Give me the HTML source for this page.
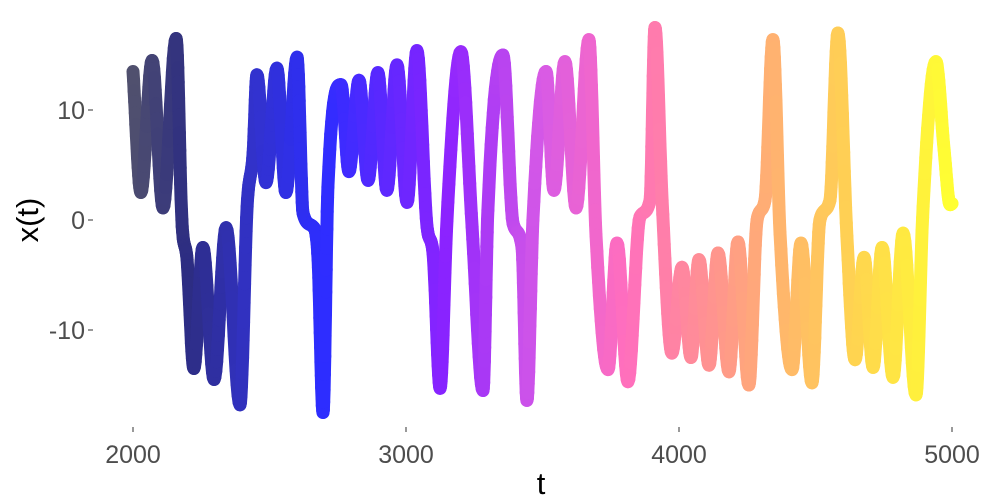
<!DOCTYPE html>
<html><head><meta charset="utf-8"><style>
html,body{margin:0;padding:0;background:#fff;width:1000px;height:500px;overflow:hidden}
text{font-family:"Liberation Sans",sans-serif}
</style></head><body>
<svg id="chart" width="1000" height="500" viewBox="0 0 1000 500">
<g id="axes"></g>
<g id="line"></g>
<text x="38" y="220" font-size="31" text-anchor="middle" transform="rotate(-90 38 220)" fill="#000">x(t)</text>
<text x="541" y="494" font-size="31" text-anchor="middle" fill="#000">t</text>
</svg>
<script>
const tVals=[2000,2029,2070,2110,2158,2179,2198,2223,2256,2297,2341,2392,2418,2440,2454,2487,2527,2560,2601,2623,2659,2678,2696,2714,2762,2791,2828,2861,2897,2930,2967,3004,3040,3077,3099,3125,3150,3201,3242,3282,3300,3355,3392,3425,3443,3465,3513,3542,3582,3623,3670,3696,3740,3773,3813,3857,3894,3912,3938,3974,4011,4044,4073,4110,4143,4183,4216,4256,4286,4315,4344,4370,4414,4447,4487,4516,4553,4582,4615,4645,4678,4711,4744,4784,4821,4868,4894,4941,4971,4993,5000];
const xVals=[13.5,2.5,14.5,1.1,16.5,0,-3.6,-13.5,-2.5,-14.5,-0.7,-16.8,1.2,6.1,13.2,3.4,13.8,2.5,14.8,0.6,-0.6,-3.6,-17.5,3.0,12.3,4.4,12.7,3.6,13.4,2.7,14.1,1.6,15.4,-0.6,-3.0,-15.3,0,15.3,-0.6,-15.5,0.9,15.0,-0.3,-2.5,-16.4,0,13.5,2.7,14.4,1.1,16.4,-1.4,-13.6,-2.1,-14.7,0.3,1.8,17.5,1.8,-12.1,-4.3,-12.5,-3.6,-13.2,-3.0,-13.8,-2.0,-15.0,0,1.8,16.4,-1.2,-13.6,-2.1,-14.8,0,1.8,17.0,-1.5,-12.7,-3.4,-13.4,-2.5,-14.3,-1.2,-15.9,1.2,14.4,6.4,1.4,1.5];
const xTicks=[2000,3000,4000,5000];
const yTicks=[10,0,-10];
const xTickLabels=["2000","3000","4000","5000"];
const yTickLabels=["10","0","-10"];
const colorStops=[[2000,[80,80,110]],[2200,[45,45,130]],[2450,[50,50,205]],[2700,[45,45,255]],[3150,[140,35,255]],[3500,[215,90,230]],[3800,[255,110,190]],[4150,[255,150,140]],[4400,[255,185,105]],[4650,[255,212,80]],[5000,[255,255,50]]];
const X=t=>133+(t-2000)*0.273;
const Y=v=>220-v*11;
const ns="http://www.w3.org/2000/svg";
const axes=document.getElementById('axes');
xTicks.forEach((t,i)=>{
  const l=document.createElementNS(ns,'line');
  
  
  l.setAttribute('x1',X(t));l.setAttribute('x2',X(t));l.setAttribute('y1',427);l.setAttribute('y2',432);
  l.setAttribute('stroke','#333');l.setAttribute('stroke-width','1');axes.appendChild(l);
  const tx=document.createElementNS(ns,'text');
  
  
  tx.setAttribute('x',X(t));tx.setAttribute('y',463);tx.setAttribute('font-size','25');tx.setAttribute('text-anchor','middle');tx.setAttribute('fill','#4d4d4d');
  tx.textContent=xTickLabels[i];axes.appendChild(tx);
});
yTicks.forEach((v,i)=>{
  const l=document.createElementNS(ns,'line');
  
  
  l.setAttribute('x1',88);l.setAttribute('x2',93);l.setAttribute('y1',Y(v));l.setAttribute('y2',Y(v));
  l.setAttribute('stroke','#333');l.setAttribute('stroke-width','1');axes.appendChild(l);
  const tx=document.createElementNS(ns,'text');
  
  
  tx.setAttribute('x',85);tx.setAttribute('y',Y(v)+9);tx.setAttribute('font-size','25');tx.setAttribute('text-anchor','end');tx.setAttribute('fill','#4d4d4d');
  tx.textContent=yTickLabels[i];axes.appendChild(tx);
});
function col(t){
  for(let i=0;i<colorStops.length-1;i++){
    const a=colorStops[i],b=colorStops[i+1];
    if(t<=b[0]){const f=(t-a[0])/(b[0]-a[0]);return 'rgb('+a[1].map((c,k)=>Math.round(c+(b[1][k]-c)*f)).join(',')+')';}
  }
  return 'rgb(255,255,50)';
}
const px=tVals.map(X), py=xVals.map(Y), n=px.length;
const d=[],m=new Array(n);
for(let i=0;i<n-1;i++)d.push((py[i+1]-py[i])/(px[i+1]-px[i]));
m[0]=d[0];m[n-1]=d[n-2];
for(let i=1;i<n-1;i++){m[i]=(d[i-1]*d[i]<=0)?0:(d[i-1]+d[i])/2;}
for(let i=0;i<n-1;i++){
  if(d[i]===0){m[i]=0;m[i+1]=0;continue;}
  const a=m[i]/d[i],b=m[i+1]/d[i],s=a*a+b*b;
  if(s>9){const tau=3/Math.sqrt(s);m[i]=tau*a*d[i];m[i+1]=tau*b*d[i];}
}
const pts=[];
for(let i=0;i<n-1;i++){
  const h=px[i+1]-px[i],N=14;
  for(let s=0;s<N;s++){
    const u=s/N,h00=2*u*u*u-3*u*u+1,h10=u*u*u-2*u*u+u,h01=-2*u*u*u+3*u*u,h11=u*u*u-u*u;
    pts.push([px[i]+u*h,h00*py[i]+h10*h*m[i]+h01*py[i+1]+h11*h*m[i+1],tVals[i]+u*(tVals[i+1]-tVals[i])]);
  }
}
pts.push([px[n-1],py[n-1],tVals[n-1]]);
const g=document.getElementById('line');
for(let i=0;i<pts.length-1;i++){
  const l=document.createElementNS(ns,'line');
  
  
  l.setAttribute('x1',pts[i][0].toFixed(1));l.setAttribute('y1',pts[i][1].toFixed(1));
  l.setAttribute('x2',pts[i+1][0].toFixed(1));l.setAttribute('y2',pts[i+1][1].toFixed(1));
  l.setAttribute('stroke',col(pts[i][2]));l.setAttribute('stroke-width','13');l.setAttribute('stroke-linecap','round');
  g.appendChild(l);
}
</script>
</body></html>
